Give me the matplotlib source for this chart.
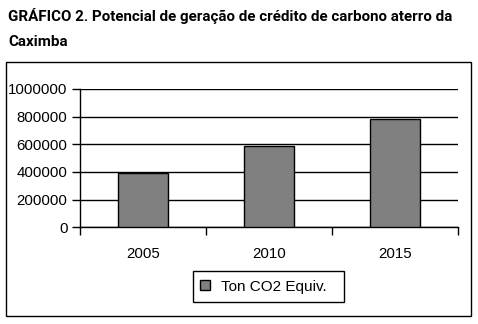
import matplotlib
import matplotlib.pyplot as plt
import numpy as np
from matplotlib.patches import Rectangle

matplotlib.use("Agg")

# Data
years = ["2005", "2010", "2015"]
ton_co2 = [395000, 587000, 780000]
y_ticks = [0, 200000, 400000, 600000, 800000, 1000000]
series_label = "Ton CO2 Equiv."
title_lines = ["GRÁFICO 2. Potencial de geração de crédito de carbono aterro da", "Caximba"]

BAR_COLOR = "#808080"
TITLE_FONT = ["Roboto", "DejaVu Sans"]

plt.rcParams["font.family"] = ["Liberation Sans", "DejaVu Sans"]

fig = plt.figure(figsize=(4.78, 3.24), dpi=100)
W, H = 478, 324

# Title (two lines, bold) - shrink the first line until it fits the reference width
t1 = fig.text(8 / W, 1 - 21 / H, title_lines[0], fontsize=12, fontweight="bold",
              family=TITLE_FONT, va="baseline", ha="left")
renderer = fig.canvas.get_renderer()
size = 12.0
while t1.get_window_extent(renderer).width > 446 and size > 6:
    size -= 0.1
    t1.set_fontsize(size)
fig.text(8 / W, 1 - 46 / H, title_lines[1], fontsize=size, fontweight="bold",
         family=TITLE_FONT, va="baseline", ha="left")

# Outer chart frame
fig.add_artist(Rectangle((6 / W, 1 - 316 / H), 465 / W, 254 / H, transform=fig.transFigure,
                         fill=False, edgecolor="black", lw=1.0))

ax = fig.add_axes([80 / W, 1 - 227.3 / H, 378 / W, 138.5 / H])
x = np.arange(len(years))
ax.bar(x, ton_co2, width=0.4, color=BAR_COLOR, edgecolor="black", lw=1.0,
       label=series_label, zorder=3)

ax.set_xlim(-0.5, len(years) - 0.5)
ax.set_ylim(0, 1000000)
ax.set_yticks(y_ticks)
ax.set_yticklabels([str(v) for v in y_ticks], fontsize=10.8)
ax.set_xticks(x)
ax.set_xticklabels(years, fontsize=10.8)
ax.set_xticks(np.arange(-0.5, len(years)), minor=True)

ax.tick_params(axis="y", direction="out", length=6, width=1, pad=3, colors="black")
ax.tick_params(axis="x", which="major", length=0, pad=14)
ax.tick_params(axis="x", which="minor", direction="out", length=6, width=1)

ax.grid(axis="y", color="black", lw=1.0, zorder=0)
for side in ("top", "right"):
    ax.spines[side].set_visible(False)
for side in ("left", "bottom"):
    ax.spines[side].set_linewidth(1.0)

# Legend: box drawn separately (extra room on the right like the original)
fig.add_artist(Rectangle((193 / W, 1 - 302 / H), 151 / W, 31 / H, transform=fig.transFigure,
                         fill=False, edgecolor="black", lw=1.0))
fig.legend(loc="center left", bbox_to_anchor=(200 / W, 1 - 286.5 / H), fontsize=11,
           frameon=False, handlelength=0.65, handleheight=0.65, borderpad=0,
           handletextpad=0.7, borderaxespad=0)

fig.savefig("out.png", dpi=100)
